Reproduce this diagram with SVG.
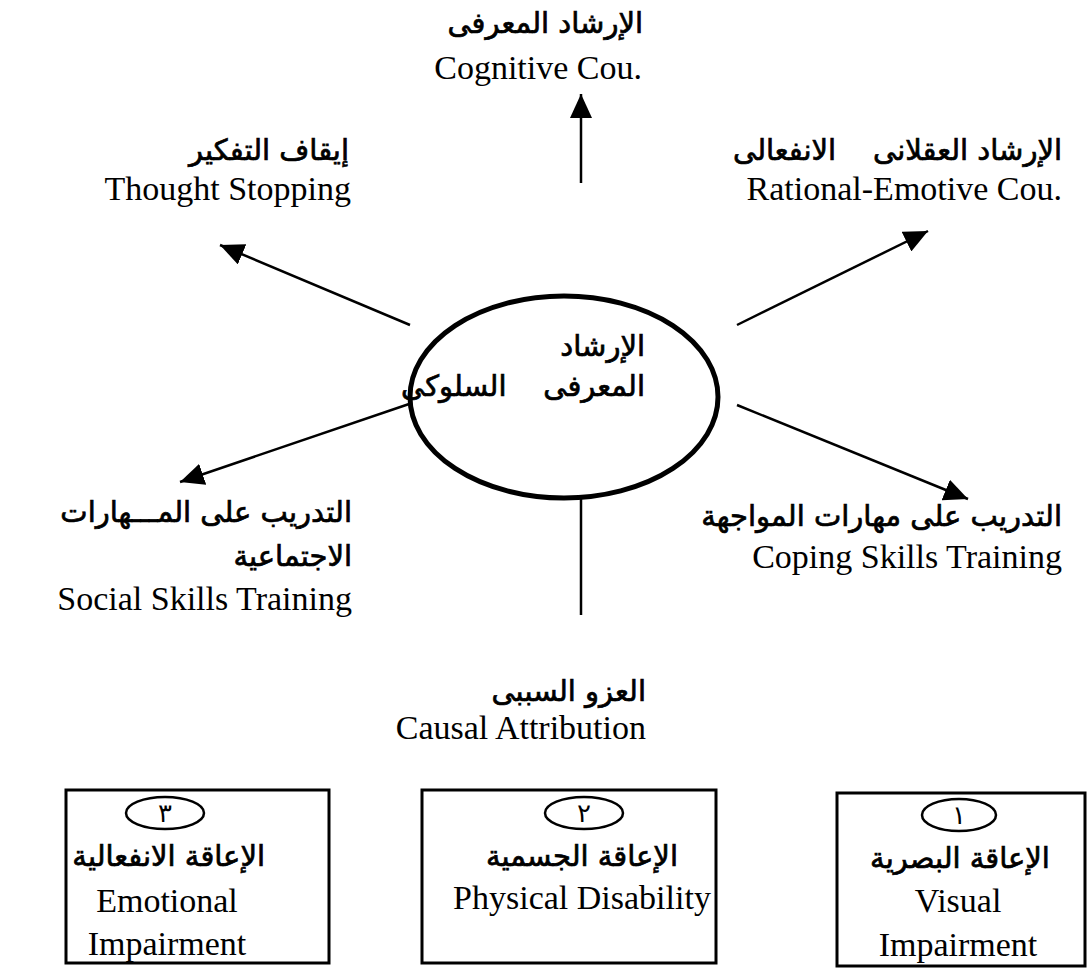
<svg xmlns="http://www.w3.org/2000/svg" width="1088" height="969" viewBox="0 0 1088 969">
<style>
.en{font-family:"Liberation Serif","Times New Roman",serif;font-size:34px;fill:#000;}
.ar{font-family:"DejaVu Sans","Noto Sans",sans-serif;font-size:29px;fill:#000;stroke:#000;stroke-width:0.7;white-space:pre;}
.dg{font-family:"DejaVu Sans","Noto Sans",sans-serif;font-size:26px;fill:#000;}
.ln{stroke:#000;stroke-width:2.5;fill:none;}
.box{fill:#fff;stroke:#000;stroke-width:3;}
.badge{fill:none;stroke:#000;stroke-width:2.5;}
</style>
<defs>
<marker id="ah" markerUnits="userSpaceOnUse" markerWidth="24" markerHeight="22" refX="24" refY="11" orient="auto">
<path d="M0,0 L24,11 L0,22 z" fill="#000"/>
</marker>
</defs>
<rect width="1088" height="969" fill="#fff"/>
<g id="connectors">
<line class="ln" x1="581" y1="183" x2="581" y2="94" marker-end="url(#ah)"/>
<line class="ln" x1="410" y1="325" x2="220" y2="245" marker-end="url(#ah)"/>
<line class="ln" x1="737" y1="325" x2="928" y2="231" marker-end="url(#ah)"/>
<line class="ln" x1="412" y1="403" x2="180" y2="482" marker-end="url(#ah)"/>
<line class="ln" x1="737" y1="405" x2="968" y2="499" marker-end="url(#ah)"/>
<line class="ln" x1="581" y1="498" x2="581" y2="615"/>
</g>
<g id="center">
<ellipse cx="564" cy="397" rx="154" ry="101" fill="#fff" stroke="#000" stroke-width="5"/>
<text class="ar" x="645" y="356" text-anchor="end">الإرشاد</text>
<text class="ar" x="645" y="396" text-anchor="end">المعرفى    السلوكى</text>
</g>
<g id="cognitive">
<text class="ar" x="643" y="33" text-anchor="end">الإرشاد المعرفى</text>
<text class="en" x="642" y="79" text-anchor="end">Cognitive Cou.</text>
</g>
<g id="thought-stopping">
<text class="ar" x="349" y="160" text-anchor="end">إيقاف التفكير</text>
<text class="en" x="351" y="200" text-anchor="end">Thought Stopping</text>
</g>
<g id="rational-emotive">
<text class="ar" x="1062" y="160" text-anchor="end">الإرشاد العقلانى    الانفعالى</text>
<text class="en" x="1062" y="200" text-anchor="end">Rational-Emotive Cou.</text>
</g>
<g id="social-skills">
<text class="ar" x="352" y="522" text-anchor="end">التدريب على المـــهارات</text>
<text class="ar" x="352" y="566" text-anchor="end">الاجتماعية</text>
<text class="en" x="352" y="610" text-anchor="end">Social Skills Training</text>
</g>
<g id="coping-skills">
<text class="ar" x="1062" y="526" text-anchor="end">التدريب على مهارات المواجهة</text>
<text class="en" x="1062" y="568" text-anchor="end">Coping Skills Training</text>
</g>
<g id="causal-attribution">
<text class="ar" x="646" y="701" text-anchor="end">العزو السببى</text>
<text class="en" x="646" y="739" text-anchor="end">Causal Attribution</text>
</g>
<g id="box-emotional">
<rect class="box" x="66" y="790" width="263" height="173"/>
<ellipse class="badge" cx="165" cy="813" rx="39" ry="16"/>
<text class="dg" x="165" y="822" text-anchor="middle">٣</text>
<text class="ar" x="265" y="866" text-anchor="end">الإعاقة الانفعالية</text>
<text class="en" x="167" y="912" text-anchor="middle">Emotional</text>
<text class="en" x="167" y="955" text-anchor="middle">Impairment</text>
</g>
<g id="box-physical">
<rect class="box" x="422" y="790" width="294" height="173"/>
<ellipse class="badge" cx="584" cy="813" rx="39" ry="16"/>
<text class="dg" x="584" y="822" text-anchor="middle">٢</text>
<text class="ar" x="582" y="866" text-anchor="middle">الإعاقة الجسمية</text>
<text class="en" x="582" y="909" text-anchor="middle">Physical Disability</text>
</g>
<g id="box-visual">
<rect class="box" x="837" y="793" width="248" height="173"/>
<ellipse class="badge" cx="959" cy="815" rx="37" ry="16"/>
<text class="dg" x="959" y="824" text-anchor="middle">١</text>
<text class="ar" x="960" y="868" text-anchor="middle">الإعاقة البصرية</text>
<text class="en" x="958" y="912" text-anchor="middle">Visual</text>
<text class="en" x="958" y="956" text-anchor="middle">Impairment</text>
</g>
</svg>
